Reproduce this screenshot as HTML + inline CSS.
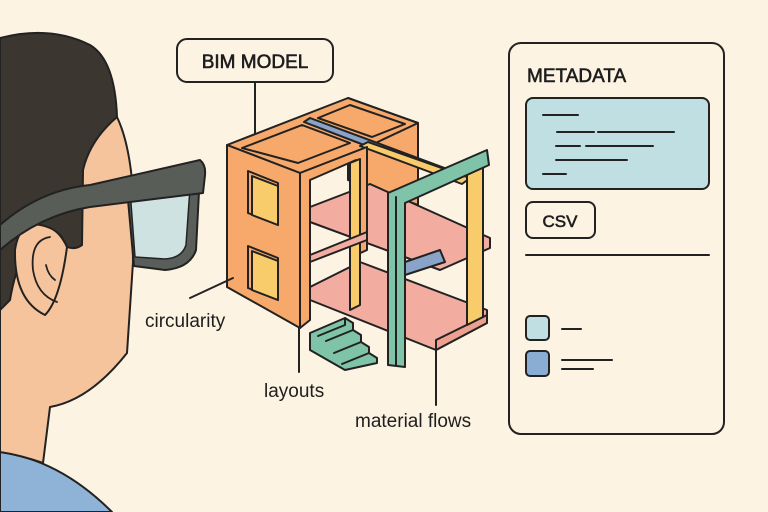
<!DOCTYPE html>
<html><head><meta charset="utf-8"><style>
html,body{margin:0;padding:0;background:#fdf3e3;}
svg{display:block;}
text{font-family:"Liberation Sans",sans-serif;fill:#1e1e1e;}
.t{stroke:#1e1e1e;stroke-width:0.6;}
</style></head><body>
<svg width="768" height="512" viewBox="0 0 768 512" xmlns="http://www.w3.org/2000/svg" stroke-linejoin="round" stroke-linecap="round">
<rect width="768" height="512" fill="#fdf3e3"/>
<!-- shoulder -->
<path d="M0,452 Q60,460 112,512 L0,512 Z" fill="#8fb3d6" stroke="#222" stroke-width="2"/>
<!-- face/neck -->
<path d="M0,100 L117,117 Q128,140 132,180 L133,262 L127,353 Q90,400 50,407 L43,463 Q20,455 0,452 Z" fill="#f6c49c" stroke="#222" stroke-width="2"/>
<!-- hair -->
<path d="M0,38 Q50,25 90,45 Q115,60 117,117 Q90,140 83,170 L82,245 Q75,250 67,247 Q60,230 50,230 Q20,240 10,300 L0,310 Z" fill="#3b3630" stroke="#222" stroke-width="2"/>
<!-- ear -->
<path d="M50,228 Q20,215 15,250 Q14,300 45,315 Q60,300 67,247 Q60,232 50,228 Z" fill="#f6c49c" stroke="#222" stroke-width="2"/>
<path d="M50,237 Q30,240 33,270 Q37,295 57,302" fill="none" stroke="#222" stroke-width="1.8"/>
<path d="M46,265 Q48,275 55,280" fill="none" stroke="#222" stroke-width="1.8"/>
<!-- lens -->
<path d="M126,178 L200,172 L196,250 Q190,268 165,270 L134,266 Z" fill="#5a5e5a" stroke="#222" stroke-width="2"/>
<path d="M130,190 L190,188 L186,245 Q182,258 165,259 L135,257 Z" fill="#cfe2e2" stroke="#222" stroke-width="1.5"/>
<!-- glasses arm -->
<path d="M0,225 Q40,190 90,185 L200,160 Q206,165 205,175 L203,193 L90,207 Q40,215 0,250 Z" fill="#595d58" stroke="#222" stroke-width="2"/>

<!-- BIM MODEL label -->
<rect x="177" y="39" width="156" height="43" rx="10" fill="#fdf3e3" stroke="#222" stroke-width="2"/>
<text class="t" x="255" y="68" font-size="19" text-anchor="middle">BIM MODEL</text>
<line x1="255" y1="82" x2="255" y2="140" stroke="#222" stroke-width="2"/>

<!-- building -->
<g stroke="#222" stroke-width="2">
<polygon points="348,98 418,123 418,205 348,180" fill="#f6a96b"/>
<polygon points="348,98 418,123 367,147 300,173 227,145" fill="#f6a96b"/>
<polygon points="242,148 302,125 350,143 298,163" fill="#f6a96b"/>
<polygon points="318,118 350,105 405,124 372,137" fill="#f6a96b"/>
<polygon points="304,122 310,118 450,170 445,176" fill="#8aa3c8"/>
<polygon points="360,146 368,142 470,178 462,184" fill="#f8cc6a"/>
<polygon points="310,207 370,184 490,238 490,248 440,270 310,222" fill="#f2aca0"/>
<polygon points="310,287 360,262 487,310 487,323 436,350 310,300" fill="#f2aca0"/>
<polygon points="436,340 487,315 487,323 436,350" fill="#eea090"/>
<polygon points="405,262 440,250 445,262 405,275" fill="#8aa3c8"/>
<polygon points="227,145 300,173 300,328 227,287" fill="#f6a96b"/>
<polygon points="248,171 278,183 278,225 248,213" fill="#f6a96b"/>
<polygon points="252,176 278,186 278,225 252,215" fill="#f8cc6a"/>
<polygon points="248,246 278,258 278,300 248,288" fill="#f6a96b"/>
<polygon points="252,251 278,261 278,300 252,290" fill="#f8cc6a"/>
<polygon points="300,173 367,147 367,250 356,255 356,160 310,180 310,320 300,328" fill="#f6a96b"/>
<polygon points="350,163 360,159 360,305 350,310" fill="#f8cc6a"/>
<polygon points="310,255 367,232 367,240 310,262" fill="#f2aca0"/>
<polygon points="467,173 483,165 483,317 467,325" fill="#f8cc6a"/>
<polygon points="388,193 487,150 489,165 405,203 405,367 388,365" fill="#7fc4a8"/>
<line x1="396" y1="197" x2="396" y2="365"/>
<!-- stairs -->
<polygon points="310,333 345,318 353,323 353,330 361,335 361,342 369,347 369,353 377,358 377,363 345,370 310,350" fill="#7fc4a8"/>
<path d="M345,325 L318,336 M353,330 L326,341 M361,342 L334,353 M369,353 L342,364 M345,318 L345,325 M353,330 L353,323" fill="none"/>
</g>

<!-- labels -->
<line x1="190" y1="298" x2="233" y2="278" stroke="#222" stroke-width="2"/>
<text x="145" y="327" font-size="19">circularity</text>
<line x1="299" y1="328" x2="299" y2="372" stroke="#222" stroke-width="2"/>
<text x="264" y="397" font-size="19">layouts</text>
<line x1="436" y1="350" x2="436" y2="405" stroke="#222" stroke-width="2"/>
<text x="355" y="427" font-size="19">material flows</text>

<!-- metadata panel -->
<rect x="509" y="43" width="215" height="391" rx="12" fill="#fdf3e3" stroke="#222" stroke-width="2"/>
<text class="t" x="527" y="82" font-size="19">METADATA</text>
<rect x="526" y="98" width="183" height="91" rx="7" fill="#bfdfe3" stroke="#222" stroke-width="2"/>
<g stroke="#222" stroke-width="2">
<line x1="543" y1="115" x2="578" y2="115"/>
<line x1="557" y1="132" x2="594" y2="132"/><line x1="598" y1="132" x2="674" y2="132"/>
<line x1="556" y1="146" x2="580" y2="146"/><line x1="586" y1="146" x2="653" y2="146"/>
<line x1="556" y1="160" x2="627" y2="160"/>
<line x1="543" y1="174" x2="566" y2="174"/>
<line x1="526" y1="255" x2="709" y2="255"/>
<line x1="562" y1="329" x2="581" y2="329"/>
<line x1="562" y1="360" x2="612" y2="360"/><line x1="562" y1="369" x2="593" y2="369"/>
</g>
<rect x="526" y="202" width="69" height="36" rx="7" fill="#fdf3e3" stroke="#222" stroke-width="2"/>
<text class="t" x="560" y="227" font-size="17" text-anchor="middle">CSV</text>
<rect x="526" y="316" width="23" height="24" rx="4" fill="#bfdfe3" stroke="#222" stroke-width="2"/>
<rect x="526" y="351" width="23" height="25" rx="4" fill="#8aadd4" stroke="#222" stroke-width="2"/>
</svg>
</body></html>
